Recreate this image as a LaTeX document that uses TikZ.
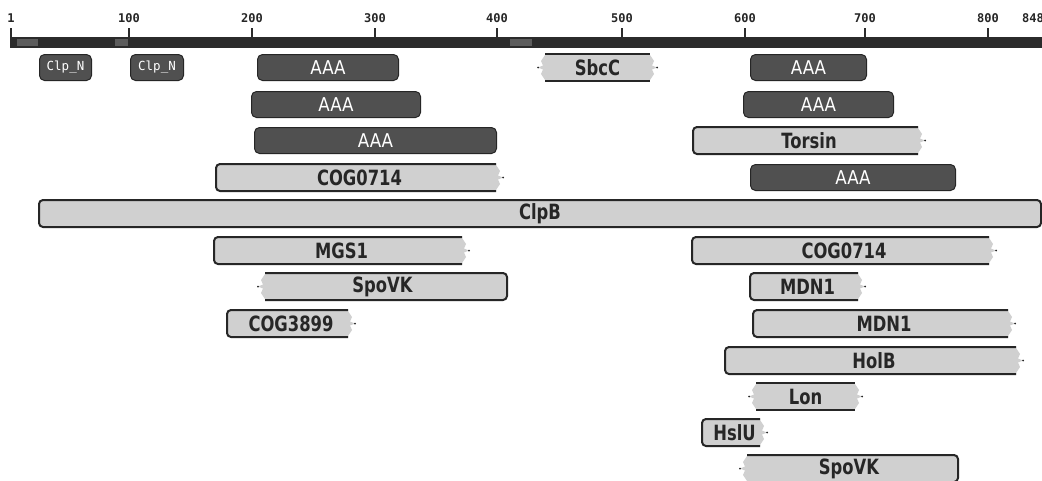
\documentclass[tikz,border=0pt]{standalone}
\usepackage{fontspec}
\newfontfamily\labfont{DejaVu Sans}[FakeStretch=0.78]
\newfontfamily\aaafont{DejaVu Sans}[FakeStretch=0.88]
\newfontfamily\monofont{DejaVu Sans Mono}
\definecolor{darkdom}{HTML}{505050}
\definecolor{lightdom}{HTML}{D0D0D0}
\definecolor{edgec}{HTML}{262626}
\definecolor{axisc}{HTML}{2B2B2B}
\definecolor{patchc}{HTML}{5C5C5C}
\tikzset{
  lbody/.style={fill=lightdom, draw=edgec, line width=2pt, rounded corners=4pt},
  lline/.style={draw=edgec, line width=2pt},
  llabel/.style={inner sep=0pt, text=edgec, font=\labfont\bfseries\fontsize{21}{21}\selectfont},
  dboxst/.style={fill=darkdom, draw=edgec, line width=1pt, rounded corners=5pt, inner sep=0pt, text=white},
  aaalab/.style={font=\aaafont\fontsize{19}{19}\selectfont},
  clplab/.style={font=\monofont\fontsize{12.5}{12.5}\selectfont},
  ticklab/.style={inner sep=0pt, font=\monofont\bfseries\fontsize{12}{12}\selectfont, text=edgec},
  tickst/.style={draw=axisc, line width=1.6pt},
}
% light domain: name, x1, x2, top, left type (1 round / 0 truncated), right type, label
\newcommand\lbox[7]{%
  \pgfmathsetmacro\xa{#2}\pgfmathsetmacro\xb{#3}%
  \pgfmathsetmacro\ya{#4}\pgfmathsetmacro\yb{#4+27}\pgfmathsetmacro\ym{#4+13.5}%
  \pgfmathsetmacro\xai{#2+7}\pgfmathsetmacro\xbi{#3-7}%
  \ifnum#5=1
    \ifnum#6=1
      \filldraw[lbody] (\xa,\ya) rectangle (\xb,\yb);
    \else
      \filldraw[lbody] (\xbi,\ya) -- (\xa,\ya) -- (\xa,\yb) -- (\xbi,\yb);
    \fi
  \else
    \ifnum#6=1
      \filldraw[lbody] (\xai,\ya) -- (\xb,\ya) -- (\xb,\yb) -- (\xai,\yb);
    \else
      \fill[lightdom] (\xai,\ya) rectangle (\xbi,\yb);
      \draw[lline] (\xai,\ya) -- (\xbi,\ya) (\xai,\yb) -- (\xbi,\yb);
    \fi
  \fi
  \ifnum#6=0
    \fill[lightdom] (\xbi,\ya+1) -- (\xb-3,\ya+7) -- (\xb-5,\ym-2) -- (\xb,\ym) -- (\xb-5,\ym+2) -- (\xb-3,\yb-7) -- (\xbi,\yb-1) -- cycle;
    \fill[edgec] (\xb,\ym) circle (1pt);
  \fi
  \ifnum#5=0
    \fill[lightdom] (\xai,\ya+1) -- (\xa+3,\ya+7) -- (\xa+5,\ym-2) -- (\xa,\ym) -- (\xa+5,\ym+2) -- (\xa+3,\yb-7) -- (\xai,\yb-1) -- cycle;
    \fill[edgec] (\xa,\ym) circle (1pt);
  \fi
  \node[llabel] (#1) at ({(#2+#3)/2},\ym) {#7};
}
% dark domain: [label style] name, x1, x2, top, label
\newcommand\dboxlab[6][aaalab]{%
  \node[dboxst, #1, minimum width={#4-#3-1}, minimum height=26] (#2) at ({(#3+#4)/2},{#5+13.5}) {#6};
}
\begin{document}
\begin{tikzpicture}[x=1pt, y=-1pt]
\useasboundingbox[fill=white] (0,0) rectangle (1042,480);
% axis
\fill[axisc] (10,37) rectangle (1042,48);
\fill[patchc] (17,39) rectangle (38,46);
\fill[patchc] (115,39) rectangle (128,46);
\fill[patchc] (510,39) rectangle (532,46);
\foreach \x/\l in {11/1,129/100,252/200,375/300,497/400,622/500,745/600,865/700,988/800}{
  \draw[tickst] (\x,28) -- (\x,37);
  \node[ticklab] (t\l) at (\x,18) {\l};
}
\node[ticklab, anchor=west] (t848) at (1022,18) {848};
% row 1
\dboxlab[clplab]{clpn1}{39}{92}{54}{Clp\_N}
\dboxlab[clplab]{clpn2}{130}{184}{54}{Clp\_N}
\dboxlab{aaa1}{257}{399}{54}{AAA}
\lbox{sbcc}{538}{657}{54}{0}{0}{SbcC}
\dboxlab{aaa2}{750}{867}{54}{AAA}
% row 2
\dboxlab{aaa3}{251}{421}{91}{AAA}
\dboxlab{aaa4}{743}{894}{91}{AAA}
% row 3
\dboxlab{aaa5}{254}{497}{127}{AAA}
\lbox{torsin}{693}{925}{127}{1}{0}{Torsin}
% row 4
\lbox{coga}{216}{503}{164}{1}{0}{COG0714}
\dboxlab{aaa6}{750}{956}{164}{AAA}
% row 5
\lbox{clpb}{39}{1041}{200}{1}{1}{ClpB}
% row 6
\lbox{mgs}{214}{469}{237}{1}{0}{MGS1}
\lbox{cogb}{692}{996}{237}{1}{0}{COG0714}
% row 7
\lbox{spovka}{258}{507}{273}{0}{1}{SpoVK}
\lbox{mdna}{750}{865}{273}{1}{0}{MDN1}
% row 8
\lbox{cog3899}{227}{355}{310}{1}{0}{COG3899}
\lbox{mdnb}{753}{1015}{310}{1}{0}{MDN1}
% row 9
\lbox{holb}{725}{1023}{347}{1}{0}{HolB}
% row 10
\lbox{lon}{749}{862}{383}{0}{0}{Lon}
% row 11
\lbox{hslu}{702}{767}{419}{1}{0}{HslU}
% row 12
\lbox{spovkb}{740}{958}{455}{0}{1}{SpoVK}
\end{tikzpicture}
\end{document}
